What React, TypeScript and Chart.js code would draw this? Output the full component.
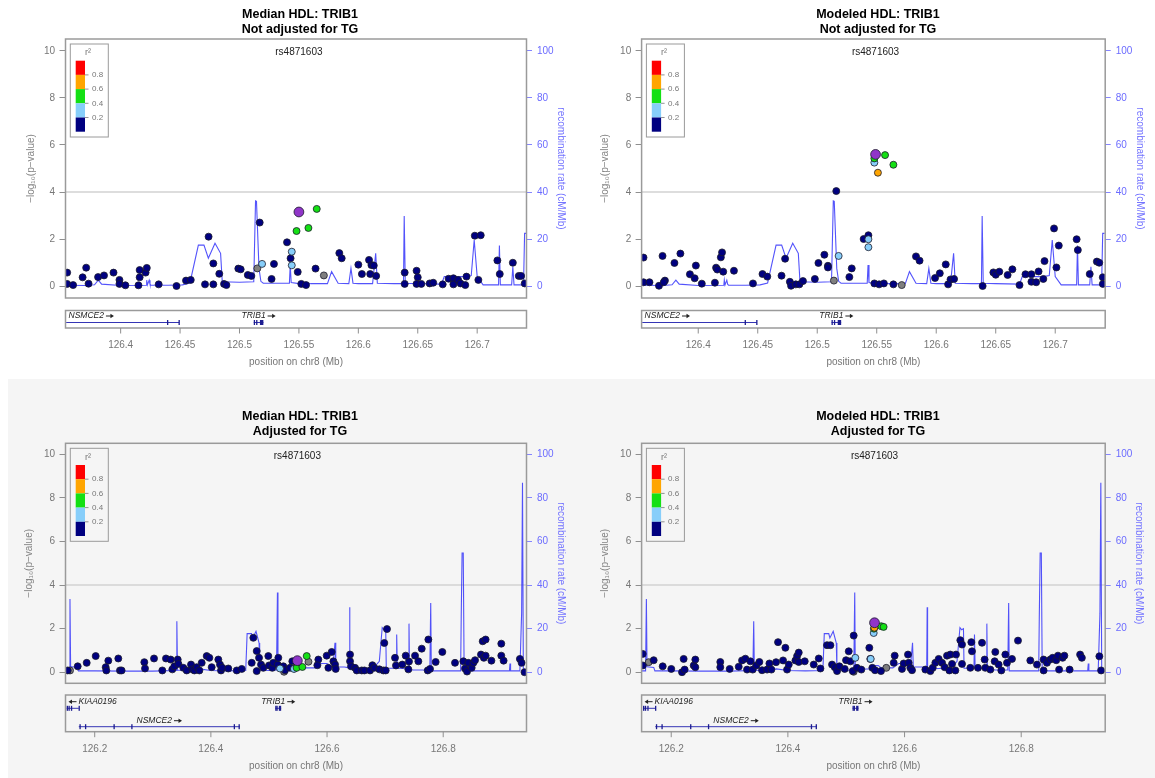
import React, { useEffect, useRef } from "react";
import { Chart, registerables } from "chart.js";

Chart.register(...registerables);
Chart.defaults.font.family = "'Liberation Sans', Arial, Helvetica, sans-serif";

type P = [number, number];

// ---------- axis ticks / labels ----------
const xTicksTop = [126.4, 126.45, 126.5, 126.55, 126.6, 126.65, 126.7];
const xLabelsTop = ["126.4", "126.45", "126.5", "126.55", "126.6", "126.65", "126.7"];
const xTicksBottom = [126.2, 126.4, 126.6, 126.8];
const xLabelsBottom = ["126.2", "126.4", "126.6", "126.8"];
const yTicks = [0, 2, 4, 6, 8, 10];
const yLabels = ["0", "2", "4", "6", "8", "10"];
const recombTicks = [0, 20, 40, 60, 80, 100];
const recombLabels = ["0", "20", "40", "60", "80", "100"];
const ldBreakLabels = ["0.8", "0.6", "0.4", "0.2"];
const sigLine = 4;
const indexSnp = "rs4871603";

// ---------- recombination rate (cM/Mb) ----------
const recTopPos = [126.3536, 126.370, 126.378, 126.3812, 126.384, 126.400, 126.4215, 126.4219, 126.4225, 126.4240, 126.4247, 126.4255, 126.440, 126.452, 126.4583, 126.4654, 126.4701, 126.4738, 126.4794, 126.4841, 126.4855, 126.500, 126.5120, 126.5135, 126.5143, 126.5164, 126.5180, 126.5200, 126.5420, 126.5427, 126.5435, 126.5500, 126.5560, 126.5600, 126.5740, 126.5775, 126.5830, 126.5920, 126.5938, 126.5955, 126.6000, 126.6120, 126.6146, 126.6160, 126.6300, 126.6380, 126.6386, 126.6395, 126.6500, 126.6700, 126.6723, 126.6900, 126.6950, 126.6975, 126.7000, 126.7050, 126.7180, 126.7187, 126.7195, 126.7290, 126.7300, 126.7310, 126.7390, 126.7399, 126.7415];
const recTopRate = [0.3, 0.2, 0.5, 2.5, 0.8, 0.2, 0.3, 2.5, 0.5, 2.5, 0.8, 0.3, 0.3, 0.5, 1.3, 17.4, 17.4, 11.8, 18.2, 13.9, 1.8, 1.6, 1.8, 36.2, 36.0, 7.5, 2.0, 1.2, 1.2, 8.9, 1.5, 1.0, 1.5, 1.0, 1.0, 6.1, 1.2, 1.0, 7.5, 1.2, 1.0, 1.0, 13.9, 1.2, 1.0, 1.0, 29.8, 1.2, 1.0, 0.8, 4.0, 4.0, 4.5, 19.6, 4.0, 0.5, 0.5, 17.2, 0.5, 0.5, 8.2, 0.5, 0.5, 22.4, 22.4];

const recBotPos = [126.1497, 126.1560, 126.1574, 126.1585, 126.1600, 126.1700, 126.1720, 126.2000, 126.2500, 126.3000, 126.3400, 126.3414, 126.3425, 126.3600, 126.3800, 126.4000, 126.4300, 126.4600, 126.4624, 126.4700, 126.4720, 126.4777, 126.4830, 126.4840, 126.5000, 126.5130, 126.5146, 126.5155, 126.5200, 126.5400, 126.5450, 126.5550, 126.5600, 126.5800, 126.5900, 126.6000, 126.6100, 126.6137, 126.6150, 126.6300, 126.6380, 126.6388, 126.6395, 126.6500, 126.6800, 126.6900, 126.6950, 126.6980, 126.7010, 126.7020, 126.7190, 126.7199, 126.7210, 126.7400, 126.7411, 126.7420, 126.7770, 126.7785, 126.7795, 126.8000, 126.8300, 126.8310, 126.8325, 126.8345, 126.8360, 126.8700, 126.9140, 126.9150, 126.9160, 126.9320, 126.9350, 126.9365, 126.9380, 126.9434];
const recBotRate = [0.6, 0.6, 33.6, 2.5, 2.5, 2.2, 0.6, 0.6, 0.5, 0.5, 0.8, 23.4, 1.0, 0.6, 1.5, 0.8, 0.6, 0.8, 17.7, 17.7, 15.7, 18.8, 13.4, 1.0, 0.8, 1.0, 36.6, 2.0, 1.5, 1.5, 3.0, 3.0, 2.0, 2.0, 4.0, 4.0, 2.0, 13.5, 2.4, 2.4, 2.0, 29.8, 1.6, 1.6, 2.0, 5.0, 20.5, 19.5, 20.0, 1.8, 1.8, 17.3, 1.8, 1.6, 22.3, 1.0, 1.0, 31.8, 0.6, 0.6, 0.6, 25, 54.7, 54.7, 0.6, 0.6, 0.6, 4.0, 0.6, 0.6, 27, 87, 0.5, 0.5];

// ---------- Median HDL, not adjusted ----------
const medNoAdjNavy: P[] = [[126.355,0.57],[126.355,0.09],[126.360,0.04],[126.368,0.37],[126.371,0.78],[126.373,0.10],[126.381,0.38],[126.386,0.45],[126.394,0.57],[126.399,0.26],[126.399,0.09],[126.404,0.03],[126.415,0.03],[126.416,0.37],[126.416,0.68],[126.421,0.57],[126.422,0.77],[126.432,0.07],[126.447,0.00],[126.455,0.23],[126.459,0.26],[126.471,0.07],[126.474,2.10],[126.478,0.96],[126.478,0.07],[126.483,0.52],[126.487,0.09],[126.489,0.04],[126.499,0.74],[126.501,0.71],[126.507,0.47],[126.510,0.43],[126.517,2.70],[126.527,0.30],[126.529,0.94],[126.540,1.86],[126.543,1.18],[126.549,0.60],[126.552,0.09],[126.556,0.04],[126.564,0.74],[126.584,1.40],[126.586,1.18],[126.600,0.91],[126.603,0.51],[126.609,1.11],[126.610,0.51],[126.611,0.89],[126.613,0.87],[126.615,0.43],[126.639,0.57],[126.639,0.09],[126.649,0.65],[126.650,0.37],[126.649,0.09],[126.653,0.09],[126.660,0.11],[126.663,0.14],[126.671,0.07],[126.676,0.31],[126.680,0.33],[126.680,0.07],[126.684,0.26],[126.686,0.11],[126.690,0.04],[126.691,0.40],[126.698,2.14],[126.703,2.16],[126.701,0.26],[126.717,1.09],[126.719,0.51],[126.730,0.99],[126.735,0.43],[126.737,0.43],[126.740,0.11]];
const medNoAdjGray: P[] = [[126.515,0.75],[126.571,0.45]];
const medNoAdjLightBlue: P[] = [[126.519,0.94],[126.544,1.46],[126.544,0.88]];
const medNoAdjGreen: P[] = [[126.548,2.34],[126.558,2.47],[126.565,3.28]];
const medNoAdjOrange: P[] = [];
const medNoAdjIndex: P[] = [[126.550,3.15]];

// ---------- Modeled HDL, not adjusted ----------
const modNoAdjNavy: P[] = [[126.354,1.21],[126.354,0.16],[126.359,0.16],[126.367,0.01],[126.370,1.28],[126.372,0.23],[126.371,0.16],[126.380,0.98],[126.385,1.38],[126.393,0.50],[126.397,0.33],[126.398,0.87],[126.403,0.10],[126.414,0.14],[126.415,0.78],[126.416,0.70],[126.419,1.22],[126.420,1.43],[126.421,0.61],[126.430,0.65],[126.446,0.11],[126.454,0.51],[126.458,0.40],[126.470,0.44],[126.473,1.16],[126.477,0.18],[126.478,0.01],[126.482,0.07],[126.485,0.07],[126.488,0.21],[126.498,0.30],[126.501,0.98],[126.506,1.33],[126.509,0.86],[126.509,0.79],[126.516,4.04],[126.527,0.38],[126.529,0.75],[126.539,2.00],[126.543,2.16],[126.548,0.11],[126.552,0.07],[126.556,0.11],[126.564,0.07],[126.583,1.26],[126.586,1.08],[126.599,0.34],[126.603,0.54],[126.608,0.92],[126.610,0.07],[126.612,0.28],[126.615,0.30],[126.639,0.00],[126.648,0.58],[126.650,0.48],[126.653,0.61],[126.660,0.47],[126.664,0.71],[126.670,0.04],[126.675,0.50],[126.680,0.50],[126.680,0.18],[126.684,0.16],[126.686,0.62],[126.690,0.30],[126.691,1.06],[126.699,2.45],[126.703,1.72],[126.701,0.79],[126.718,1.99],[126.719,1.53],[126.729,0.51],[126.735,1.04],[126.737,0.99],[126.740,0.37],[126.740,0.09]];
const modNoAdjGray: P[] = [[126.514,0.23],[126.571,0.04]];
const modNoAdjLightBlue: P[] = [[126.518,1.28],[126.543,1.99],[126.543,1.65],[126.548,5.25]];
const modNoAdjGreen: P[] = [[126.548,5.43],[126.557,5.57],[126.564,5.16]];
const modNoAdjOrange: P[] = [[126.551,4.82]];
const modNoAdjIndex: P[] = [[126.549,5.60]];

// ---------- Median HDL, adjusted for TG ----------
const medAdjNavy: P[] = [[126.1535,0.08],[126.1707,0.27],[126.1862,0.43],[126.2017,0.74],[126.2189,0.23],[126.2200,0.08],[126.2234,0.53],[126.2406,0.63],[126.2435,0.08],[126.2463,0.08],[126.2854,0.46],[126.2866,0.17],[126.3021,0.63],[126.3164,0.08],[126.3227,0.63],[126.3308,0.58],[126.3336,0.13],[126.3370,0.27],[126.3429,0.58],[126.3441,0.38],[126.3526,0.20],[126.3583,0.08],[126.3658,0.35],[126.3681,0.13],[126.3716,0.08],[126.3756,0.23],[126.3802,0.08],[126.3842,0.43],[126.3928,0.74],[126.3974,0.66],[126.4014,0.23],[126.4128,0.58],[126.4157,0.35],[126.4174,0.08],[126.4197,0.20],[126.4300,0.17],[126.4445,0.08],[126.4531,0.15],[126.4703,0.43],[126.4731,1.58],[126.4789,0.97],[126.4789,0.05],[126.4829,0.66],[126.4863,0.35],[126.4903,0.20],[126.4989,0.74],[126.5001,0.31],[126.5058,0.20],[126.5075,0.43],[126.5150,0.35],[126.5161,0.66],[126.5248,0.27],[126.5276,0.09],[126.5362,0.20],[126.5402,0.50],[126.5437,0.17],[126.5850,0.58],[126.5833,0.32],[126.5994,0.76],[126.6023,0.20],[126.6080,0.93],[126.6109,0.50],[126.6138,0.35],[126.6149,0.15],[126.6396,0.81],[126.6396,0.50],[126.6413,0.27],[126.6482,0.20],[126.6511,0.08],[126.6597,0.08],[126.6643,0.08],[126.6740,0.08],[126.6781,0.32],[126.6815,0.20],[126.6901,0.13],[126.6970,0.08],[126.6986,1.34],[126.7032,1.98],[126.7010,0.08],[126.7170,0.66],[126.7187,0.31],[126.7296,0.35],[126.7354,0.76],[126.7411,0.49],[126.7400,0.13],[126.7515,0.76],[126.7572,0.50],[126.7630,1.08],[126.7733,0.08],[126.7744,1.50],[126.7773,0.15],[126.7870,0.47],[126.7985,0.93],[126.8203,0.43],[126.8347,0.50],[126.8375,0.17],[126.8410,0.03],[126.8433,0.43],[126.8490,0.20],[126.8519,0.43],[126.8548,0.55],[126.8650,0.81],[126.8680,1.42],[126.8730,1.50],[126.8700,0.66],[126.8730,0.76],[126.8830,0.53],[126.9000,1.31],[126.9000,0.76],[126.9040,0.53],[126.9320,0.61],[126.9350,0.43],[126.9400,0.00]];
const medAdjGray: P[] = [[126.1575,0.08],[126.5260,0.02],[126.5680,0.48]];
const medAdjLightBlue: P[] = [[126.5190,0.17],[126.5430,0.15]];
const medAdjGreen: P[] = [[126.5477,0.20],[126.5575,0.24],[126.5650,0.74]];
const medAdjOrange: P[] = [];
const medAdjIndex: P[] = [[126.5489,0.53]];

// ---------- Modeled HDL, adjusted for TG ----------
const modAdjNavy: P[] = [[126.1511,0.84],[126.1513,0.31],[126.1699,0.55],[126.1854,0.27],[126.2001,0.15],[126.2185,0.00],[126.2213,0.61],[126.2230,0.12],[126.2385,0.31],[126.2413,0.58],[126.2413,0.23],[126.2841,0.47],[126.2841,0.23],[126.3002,0.15],[126.3157,0.25],[126.3214,0.54],[126.3271,0.62],[126.3300,0.12],[126.3357,0.50],[126.3397,0.12],[126.3460,0.31],[126.3511,0.47],[126.3557,0.09],[126.3643,0.12],[126.3683,0.40],[126.3717,0.12],[126.3797,0.46],[126.3831,1.38],[126.3917,0.54],[126.3957,1.12],[126.3986,0.12],[126.4015,0.35],[126.4129,0.54],[126.4158,0.74],[126.4186,0.90],[126.4186,0.47],[126.4289,0.50],[126.4443,0.35],[126.4529,0.63],[126.4558,0.17],[126.4671,1.24],[126.4729,1.24],[126.4757,0.35],[126.4803,0.23],[126.4843,0.05],[126.4883,0.27],[126.4974,0.15],[126.4997,0.55],[126.5043,0.96],[126.5071,0.50],[126.5128,1.68],[126.5111,0.05],[126.5185,0.20],[126.5259,0.12],[126.5396,1.12],[126.5413,0.61],[126.5448,0.20],[126.5494,0.09],[126.5596,0.05],[126.5814,0.43],[126.5831,0.76],[126.5956,0.15],[126.5985,0.40],[126.6059,0.81],[126.6071,0.43],[126.6099,0.20],[126.6128,0.09],[126.6357,0.12],[126.6443,0.05],[126.6483,0.20],[126.6528,0.43],[126.6585,0.61],[126.6643,0.43],[126.6688,0.23],[126.6728,0.76],[126.6785,0.81],[126.6768,0.08],[126.6814,0.38],[126.6871,0.08],[126.6882,0.81],[126.6956,1.47],[126.6985,1.27],[126.6985,0.38],[126.7145,1.38],[126.7156,0.96],[126.7128,0.20],[126.7259,0.20],[126.7328,1.35],[126.7373,0.58],[126.7385,0.20],[126.7471,0.12],[126.7556,0.93],[126.7545,0.50],[126.7613,0.35],[126.7659,0.08],[126.7728,0.81],[126.7756,0.43],[126.7842,0.61],[126.7945,1.45],[126.8156,0.54],[126.8270,0.35],[126.8384,0.58],[126.8384,0.08],[126.8441,0.43],[126.8499,0.58],[126.8539,0.66],[126.8600,0.55],[126.8630,0.76],[126.8650,0.12],[126.8710,0.66],[126.8740,0.76],[126.8830,0.12],[126.9010,0.81],[126.9040,0.66],[126.9340,0.73],[126.9370,0.08]];
const modAdjGray: P[] = [[126.1614,0.46],[126.5128,0.02],[126.5687,0.20]];
const modAdjLightBlue: P[] = [[126.5156,0.66],[126.5420,0.61],[126.5471,1.80]];
const modAdjGreen: P[] = [[126.5475,2.00],[126.5601,2.11],[126.5641,2.08]];
const modAdjOrange: P[] = [[126.5482,2.04]];
const modAdjIndex: P[] = [[126.5485,2.27]];

// ---------- genes ----------
const genesTop = [
  { name: "NSMCE2", start: 126.1726, end: 126.4492, strand: 1, row: 0, exons: [[126.4390, 126.4395], [126.4487, 126.4492]] },
  { name: "TRIB1", start: 126.5120, end: 126.5201, strand: 1, row: 0, exons: [[126.5120, 126.5125], [126.5140, 126.5146], [126.5172, 126.5201]] },
];
const genesBottom = [
  { name: "KIAA0196", start: 126.1516, end: 126.1726, strand: -1, row: 0, exons: [[126.1516, 126.1540], [126.1548, 126.1562], [126.1590, 126.1598], [126.1722, 126.1726]] },
  { name: "TRIB1", start: 126.5108, end: 126.5210, strand: 1, row: 0, exons: [[126.5108, 126.5118], [126.5128, 126.5138], [126.5170, 126.5210]] },
  { name: "NSMCE2", start: 126.1726, end: 126.4497, strand: 1, row: 1, exons: [[126.1737, 126.1741], [126.1832, 126.1836], [126.2323, 126.2327], [126.2629, 126.2633], [126.4393, 126.4397], [126.4476, 126.4480]] },
];

// ---------- colours ----------
const C = {
  navy: "#000080",
  lightblue: "#87CEFA",
  green: "#14e014",
  orange: "#FFA500",
  red: "#FF0000",
  gray: "#7f7f7f",
  index: "#9035c8",
  recomb: "rgba(45,45,250,0.82)",
  axisText: "#777777",
  axisLine: "#8f8f8f",
  blueText: "#6b6bff",
  box: "#9a9a9a",
};

const panels = [
  {
    key: "tl", left: 0, top: 0, w: 578, h: 380,
    title: ["Median HDL: TRIB1", "Not adjusted for TG"], titleX: 300, titleY: [15, 29.5],
    pad: { left: 25.4, right: 11.5, top: 39, bottom: 8 }, yW: 40.1, y2W: 40, xH: 74, xTickPad: 41,
    xMin: 126.3536, xMax: 126.7415, xTicks: xTicksTop, xLabels: xLabelsTop,
    navy: medNoAdjNavy, gray: medNoAdjGray, lightblue: medNoAdjLightBlue, green: medNoAdjGreen, orange: medNoAdjOrange, index: medNoAdjIndex,
    recPos: recTopPos, recRate: recTopRate, genes: genesTop,
    geneBox: { off: 12.5, h: 17.5, labelY: [5.5], lineY: [12] },
  },
  {
    key: "tr", left: 578, top: 0, w: 577, h: 380,
    title: ["Modeled HDL: TRIB1", "Not adjusted for TG"], titleX: 300, titleY: [15, 29.5],
    pad: { left: 21.7, right: 9.4, top: 39, bottom: 8 }, yW: 41.9, y2W: 40.4, xH: 74, xTickPad: 41,
    xMin: 126.3524, xMax: 126.742, xTicks: xTicksTop, xLabels: xLabelsTop,
    navy: modNoAdjNavy, gray: modNoAdjGray, lightblue: modNoAdjLightBlue, green: modNoAdjGreen, orange: modNoAdjOrange, index: modNoAdjIndex,
    recPos: recTopPos, recRate: recTopRate, genes: genesTop,
    geneBox: { off: 12.5, h: 17.5, labelY: [5.5], lineY: [12] },
  },
  {
    key: "bl", left: 0, top: 380, w: 578, h: 398,
    title: ["Median HDL: TRIB1", "Adjusted for TG"], titleX: 300, titleY: [36.7, 51.7],
    pad: { left: 23.6, right: 11.5, top: 63.3, bottom: 2 }, yW: 41.9, y2W: 40, xH: 92.7, xTickPad: 59.7,
    xMin: 126.1497, xMax: 126.9434, xTicks: xTicksBottom, xLabels: xLabelsBottom,
    navy: medAdjNavy, gray: medAdjGray, lightblue: medAdjLightBlue, green: medAdjGreen, orange: medAdjOrange, index: medAdjIndex,
    recPos: recBotPos, recRate: recBotRate, genes: genesBottom,
    geneBox: { off: 11.7, h: 36.7, labelY: [6.7, 25.7], lineY: [13.3, 31.7] },
  },
  {
    key: "br", left: 578, top: 380, w: 577, h: 398,
    title: ["Modeled HDL: TRIB1", "Adjusted for TG"], titleX: 300, titleY: [36.7, 51.7],
    pad: { left: 21.7, right: 10.5, top: 63.3, bottom: 2 }, yW: 41.9, y2W: 39.3, xH: 92.7, xTickPad: 59.7,
    xMin: 126.1492, xMax: 126.944, xTicks: xTicksBottom, xLabels: xLabelsBottom,
    navy: modAdjNavy, gray: modAdjGray, lightblue: modAdjLightBlue, green: modAdjGreen, orange: modAdjOrange, index: modAdjIndex,
    recPos: recBotPos, recRate: recBotRate, genes: genesBottom,
    geneBox: { off: 11.7, h: 36.7, labelY: [6.7, 25.7], lineY: [13.3, 31.7] },
  },
];

function ptsDataset(pts: P[], fill: string, r: number, order: number) {
  return {
    data: pts.map(([x, y]) => ({ x, y })),
    yAxisID: "y",
    showLine: false,
    pointRadius: r,
    pointBackgroundColor: fill,
    pointBorderColor: "#1c1c2c",
    pointBorderWidth: 0.8,
    order,
  };
}

function drawArrow(ctx: CanvasRenderingContext2D, x: number, y: number, dir: number) {
  ctx.beginPath();
  ctx.moveTo(x, y);
  ctx.lineTo(x + dir * 5, y);
  ctx.stroke();
  ctx.beginPath();
  ctx.moveTo(x + dir * 8, y);
  ctx.lineTo(x + dir * 4.5, y - 2.3);
  ctx.lineTo(x + dir * 4.5, y + 2.3);
  ctx.closePath();
  ctx.fill();
}

function makeDecor(cfg: any) {
  return {
    id: "decor_" + cfg.key,
    beforeDatasetsDraw(chart: any) {
      const { ctx, chartArea, scales } = chart;
      const y4 = scales.y.getPixelForValue(sigLine);
      ctx.save();
      ctx.strokeStyle = "#d2d2d2";
      ctx.lineWidth = 1.5;
      ctx.beginPath();
      ctx.moveTo(chartArea.left, y4);
      ctx.lineTo(chartArea.right, y4);
      ctx.stroke();
      ctx.restore();
    },
    afterDraw(chart: any) {
      const { ctx, chartArea, scales } = chart;
      const { left, right, top, bottom } = chartArea;
      ctx.save();
      // titles
      ctx.fillStyle = "#000";
      ctx.font = "bold 12.5px 'Liberation Sans', Arial, sans-serif";
      ctx.textAlign = "center";
      ctx.textBaseline = "middle";
      ctx.fillText(cfg.title[0], cfg.titleX, cfg.titleY[0]);
      ctx.fillText(cfg.title[1], cfg.titleX, cfg.titleY[1]);

      // plot box
      ctx.strokeStyle = C.box;
      ctx.lineWidth = 1.5;
      ctx.strokeRect(left, top, right - left, bottom - top);

      // index snp label
      ctx.fillStyle = "#222";
      ctx.font = "10px 'Liberation Sans', Arial, sans-serif";
      ctx.fillText(indexSnp, scales.x.getPixelForValue(cfg.index[0][0]), top + 13);

      // legend
      const lx = left + 4.8, ly = top + 5;
      ctx.strokeStyle = "#9a9a9a";
      ctx.lineWidth = 1;
      ctx.strokeRect(lx, ly, 38, 93);
      const bx = left + 10.2, bw = 9.3, by = top + 21.7, seg = 14.2;
      const segCols = [C.red, C.orange, C.green, C.lightblue, C.navy];
      segCols.forEach((c, k) => {
        ctx.fillStyle = c;
        ctx.fillRect(bx, by + k * seg, bw, seg);
      });
      ctx.strokeStyle = "#777";
      ctx.lineWidth = 0.8;
      ctx.fillStyle = C.axisText;
      ctx.font = "8px 'Liberation Sans', Arial, sans-serif";
      ctx.textAlign = "left";
      ldBreakLabels.forEach((lab, k) => {
        const yy = by + (k + 1) * seg;
        ctx.beginPath();
        ctx.moveTo(bx + bw, yy);
        ctx.lineTo(bx + bw + 3.5, yy);
        ctx.stroke();
        ctx.fillText(lab, left + 26.5, yy);
      });
      ctx.textAlign = "center";
      ctx.font = "9px 'Liberation Sans', Arial, sans-serif";
      ctx.fillText("r²", left + 22.5, top + 14);

      // gene track box
      const gb = cfg.geneBox;
      const gTop = bottom + gb.off;
      const gBot = gTop + gb.h;
      ctx.strokeStyle = C.box;
      ctx.lineWidth = 1.5;
      ctx.strokeRect(left, gTop, right - left, gb.h);

      // x tick marks below gene track
      ctx.strokeStyle = C.axisLine;
      ctx.lineWidth = 1;
      cfg.xTicks.forEach((v: number) => {
        const px = scales.x.getPixelForValue(v);
        ctx.beginPath();
        ctx.moveTo(px, gBot);
        ctx.lineTo(px, gBot + 5.5);
        ctx.stroke();
      });

      // genes
      ctx.save();
      ctx.beginPath();
      ctx.rect(left + 0.75, gTop + 0.75, right - left - 1.5, gb.h - 1.5);
      ctx.clip();
      cfg.genes.forEach((g: any) => {
        const yLine = gTop + gb.lineY[g.row];
        const yLab = gTop + gb.labelY[g.row];
        const x0 = scales.x.getPixelForValue(g.start);
        const x1 = scales.x.getPixelForValue(g.end);
        ctx.strokeStyle = "#3535b5";
        ctx.lineWidth = 1;
        ctx.beginPath();
        ctx.moveTo(x0, yLine);
        ctx.lineTo(x1, yLine);
        ctx.stroke();
        ctx.fillStyle = "#1c1c90";
        g.exons.forEach((e: number[]) => {
          const e0 = scales.x.getPixelForValue(e[0]);
          const e1 = scales.x.getPixelForValue(e[1]);
          const w = Math.max(e1 - e0, 1.3);
          ctx.fillRect(e0, yLine - 2.5, w, 5);
        });
        // label
        ctx.font = "italic 8.5px 'Liberation Sans', Arial, sans-serif";
        ctx.textBaseline = "middle";
        ctx.textAlign = "left";
        const tw = ctx.measureText(g.name).width;
        const total = tw + 10;
        const cx = (x0 + x1) / 2;
        let gx = cx - total / 2;
        gx = Math.max(left + 3, Math.min(gx, right - 3 - total));
        ctx.fillStyle = "#222";
        ctx.strokeStyle = "#222";
        ctx.lineWidth = 1;
        if (g.strand > 0) {
          ctx.fillText(g.name, gx, yLab);
          drawArrow(ctx, gx + tw + 2, yLab, 1);
        } else {
          drawArrow(ctx, gx + 8, yLab, -1);
          ctx.fillText(g.name, gx + 10, yLab);
        }
      });
      ctx.restore();
      ctx.restore();
    },
  };
}

function Panel({ cfg }: { cfg: any }) {
  const ref = useRef<HTMLCanvasElement | null>(null);
  useEffect(() => {
    const canvas = ref.current;
    if (!canvas) return;
    const chart = new Chart(canvas, {
      type: "scatter",
      data: {
        datasets: [
          {
            data: cfg.recPos.map((x: number, i: number) => ({ x, y: cfg.recRate[i] })),
            yAxisID: "y2",
            showLine: true,
            pointRadius: 0,
            borderColor: C.recomb,
            borderWidth: 1.1,
            tension: 0,
            order: 20,
          },
          ptsDataset(cfg.gray, C.gray, 3.5, 6),
          ptsDataset(cfg.navy, C.navy, 3.5, 5),
          ptsDataset(cfg.lightblue, C.lightblue, 3.5, 4),
          ptsDataset(cfg.green, C.green, 3.5, 3),
          ptsDataset(cfg.orange, C.orange, 3.5, 2),
          ptsDataset(cfg.index, C.index, 4.9, 1),
        ] as any,
      },
      options: {
        responsive: false,
        animation: false,
        events: [],
        layout: { padding: cfg.pad },
        plugins: { legend: { display: false }, tooltip: { enabled: false }, title: { display: false } },
        scales: {
          x: {
            type: "linear",
            position: "bottom",
            min: cfg.xMin,
            max: cfg.xMax,
            afterBuildTicks: (s: any) => { s.ticks = cfg.xTicks.map((v: number) => ({ value: v })); },
            afterFit: (s: any) => { s.height = cfg.xH; },
            ticks: {
              autoSkip: false,
              maxRotation: 0,
              padding: cfg.xTickPad,
              color: C.axisText,
              font: { size: 10 },
              callback: (_v: any, i: number) => cfg.xLabels[i],
            },
            grid: { display: false, drawTicks: false },
            border: { display: false },
            title: { display: true, text: "position on chr8 (Mb)", color: C.axisText, font: { size: 10 }, padding: { top: 0, bottom: 4 } },
          },
          y: {
            type: "linear",
            position: "left",
            min: -0.51,
            max: 10.51,
            afterBuildTicks: (s: any) => { s.ticks = yTicks.map((v) => ({ value: v })); },
            afterFit: (s: any) => { s.width = cfg.yW; },
            ticks: { padding: 4.4, color: C.axisText, font: { size: 10 }, callback: (_v: any, i: number) => yLabels[i] },
            grid: { display: true, drawOnChartArea: false, drawTicks: true, tickLength: 6, color: C.axisLine, lineWidth: 1 },
            border: { display: false },
            title: { display: true, text: "−log₁₀(p−value)", color: "#858585", font: { size: 10 }, padding: 0 },
          },
          y2: {
            type: "linear",
            position: "right",
            min: -5.1,
            max: 105.1,
            afterBuildTicks: (s: any) => { s.ticks = recombTicks.map((v) => ({ value: v })); },
            afterFit: (s: any) => { s.width = cfg.y2W; },
            ticks: { padding: 5, color: C.blueText, font: { size: 10 }, callback: (_v: any, i: number) => recombLabels[i] },
            grid: { display: true, drawOnChartArea: false, drawTicks: true, tickLength: 5.5, color: "#8585ff", lineWidth: 1 },
            border: { display: false },
            title: { display: true, text: "recombination rate (cM/Mb)", color: "#7474ff", font: { size: 10 }, padding: 0 },
          },
        },
      } as any,
      plugins: [makeDecor(cfg)],
    });
    return () => chart.destroy();
  }, [cfg]);
  return (
    <canvas
      ref={ref}
      width={cfg.w}
      height={cfg.h}
      style={{ position: "absolute", left: cfg.left, top: cfg.top, width: cfg.w, height: cfg.h }}
    />
  );
}

export default function App() {
  return (
    <div style={{ position: "absolute", left: 0, top: 0, width: 1155, height: 778, background: "#ffffff", overflow: "hidden" }}>
      <div style={{ position: "absolute", left: 8, top: 379, width: 1147, height: 399, background: "#f5f5f5" }} />
      {panels.map((p) => (
        <Panel key={p.key} cfg={p} />
      ))}
    </div>
  );
}
